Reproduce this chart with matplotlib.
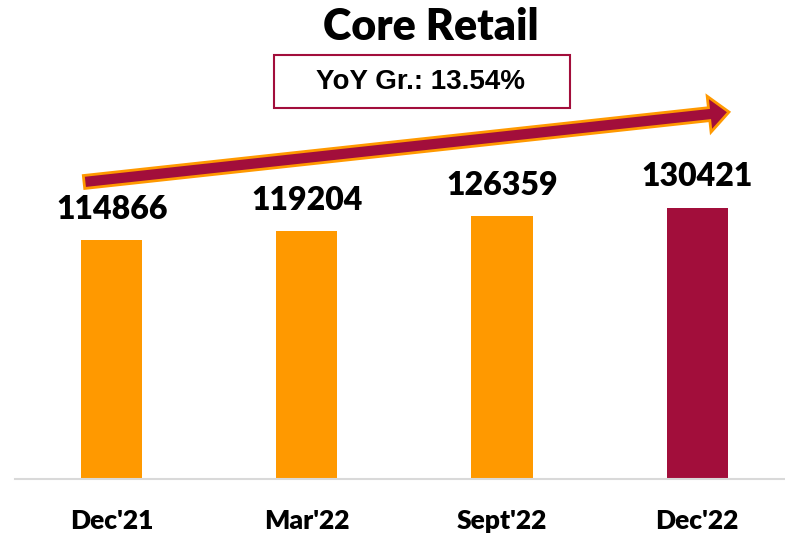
import matplotlib.pyplot as plt
from matplotlib.patches import FancyArrow, Rectangle

periods = ["Dec'21", "Mar'22", "Sept'22", "Dec'22"]
values = [114866, 119204, 126359, 130421]
yoy_growth = "YoY Gr.: 13.54%"
title = "Core Retail"

orange = "#FF9900"
maroon = "#A20E3B"
bar_colors = [orange, orange, orange, maroon]

W, H = 785, 540
fig = plt.figure(figsize=(W / 100, H / 100), dpi=100)

# axes placed in pixel terms: baseline at y=479, left edge at x=15
ax = fig.add_axes([15 / W, (H - 479) / H, 1 - 15 / W, 479 / H])
x = list(range(len(periods)))
ax.bar(x, values, width=0.313, color=bar_colors, zorder=2)
ax.set_xlim(-0.497, 3.451)
ax.set_ylim(0, 479 * values[-1] / 271)

for xi, v in zip(x, values):
    ax.annotate(f"{v}", (xi, v), xytext=(0, 12), textcoords="offset points",
                ha="center", va="bottom", fontsize=23, fontweight="heavy",
                family="Lato", color="black")

for s in ["top", "right", "left"]:
    ax.spines[s].set_visible(False)
ax.spines["bottom"].set_color("#D9D9D9")
ax.spines["bottom"].set_linewidth(1.5)
ax.set_yticks([])
ax.set_xticks([])

# category labels below the axis line
for xi, lab in zip(x, periods):
    ax.text(xi, -42 / 479, lab, transform=ax.get_xaxis_transform(),
            ha="center", va="center", fontsize=19, fontweight="heavy",
            family="Lato")

# title and growth box
fig.text(431 / W, 1 - 27 / H, title, ha="center", va="center",
         fontsize=31, fontweight="heavy", family="Lato")
fig.patches.append(Rectangle((274 / W, 1 - 108 / H), 296 / W, 53 / H,
                             transform=fig.transFigure, fill=False,
                             edgecolor=maroon, linewidth=1.5))
fig.text(421 / W, 1 - 82 / H, yoy_growth, ha="center", va="center",
         fontsize=20, fontweight="bold", family="Liberation Sans")

# growth arrow (drawn in pixel coords)
x0, y0 = 84, H - 182
x1, y1 = 729, H - 112
arrow = FancyArrow(x0, y0, x1 - x0, y1 - y0, width=13, head_width=36,
                   head_length=20, length_includes_head=True,
                   facecolor=maroon, edgecolor=orange, linewidth=2,
                   transform=None, zorder=5)
fig.patches.append(arrow)

fig.savefig("out.png", dpi=100)
